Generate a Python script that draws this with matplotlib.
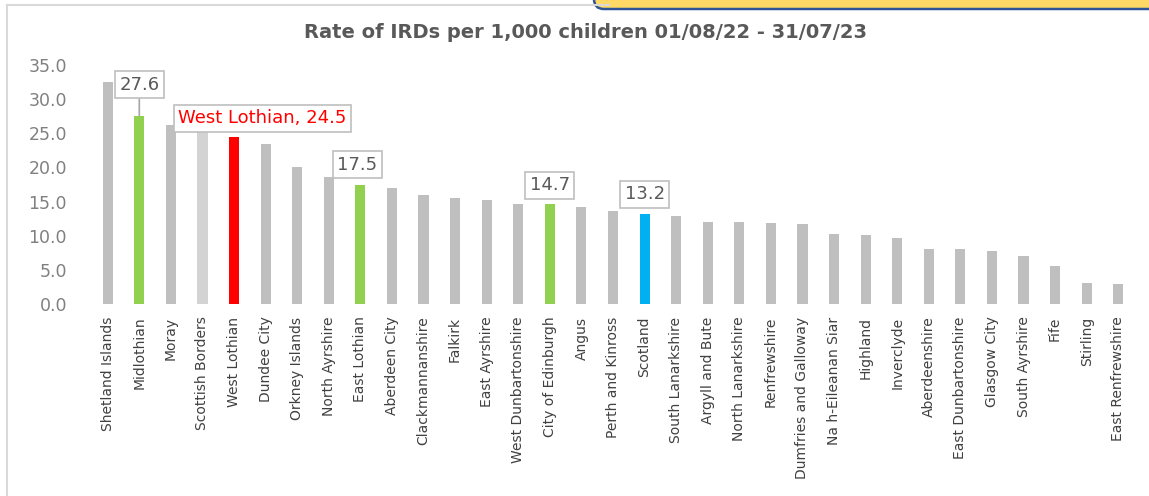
"""
Rate of IRDs per 1,000 children by council area, 01/08/22 - 31/07/23.
"""

import matplotlib
matplotlib.use("Agg")
from matplotlib import pyplot as plt
from matplotlib.lines import Line2D
from matplotlib.patches import FancyBboxPatch
from matplotlib.transforms import IdentityTransform


# Data
areas = ["Shetland Islands", "Midlothian", "Moray", "Scottish Borders",
         "West Lothian", "Dundee City", "Orkney Islands", "North Ayrshire",
         "East Lothian", "Aberdeen City", "Clackmannanshire", "Falkirk",
         "East Ayrshire", "West Dunbartonshire", "City of Edinburgh", "Angus",
         "Perth and Kinross", "Scotland", "South Lanarkshire", "Argyll and Bute",
         "North Lanarkshire", "Renfrewshire", "Dumfries and Galloway",
         "Na h-Eileanan Siar", "Highland", "Inverclyde", "Aberdeenshire",
         "East Dunbartonshire", "Glasgow City", "South Ayrshire", "Fife",
         "Stirling", "East Renfrewshire"]
rates = [32.5, 27.6, 26.2, 25.7, 24.5, 23.5, 20.1, 18.6, 17.5, 17.0, 16.0,
         15.5, 15.2, 14.6, 14.7, 14.2, 13.6, 13.2, 12.9, 12.0, 12.0, 11.8,
         11.7, 10.2, 10.1, 9.7, 8.0, 8.0, 7.8, 7.0, 5.6, 3.1, 2.9]
yticks = [0, 5, 10, 15, 20, 25, 30, 35]

# Highlighted bars
highlight_colors = {
    "Midlothian": "#92d050",
    "East Lothian": "#92d050",
    "City of Edinburgh": "#92d050",
    "West Lothian": "#ff0000",
    "Scotland": "#00b0f0",
    "Scottish Borders": "#d3d3d3",
}

# Callout labels: area -> (text colour, show name, box offset in data units)
callouts = {
    "Midlothian": ("#595959", False, (0.0, 4.5)),
    "West Lothian": ("#ff0000", True, (0.9, 2.7)),
    "East Lothian": ("#595959", False, (-0.1, 2.9)),
    "City of Edinburgh": ("#595959", False, (0.0, 2.7)),
    "Scotland": ("#595959", False, (0.0, 2.9)),
}

# Visual elements
BAR_GREY = "#bfbfbf"
TEXT_GREY = "#595959"
LABEL_GREY = "#404040"
TICK_GREY = "#808080"
BOX_EDGE = "#bfbfbf"
BAR_WIDTH = 0.32
FONT = "DejaVu Sans"


def draw_callouts(axis):
    """
    Boxed value labels above the highlighted bars.
    """
    for name, (color, show_name, (dx, dy)) in callouts.items():
        i = areas.index(name)
        val = rates[i]
        text = f"{name}, {val:.1f}" if show_name else f"{val:.1f}"
        arrow = None
        if name == "Midlothian":
            arrow = dict(arrowstyle="-", color="#a6a6a6", lw=1.2,
                         shrinkA=0, shrinkB=0)
        axis.annotate(text, xy=(i, val), xytext=(i + dx, val + dy),
                      ha="center", va="center", fontsize=13, color=color,
                      family=FONT,
                      bbox=dict(boxstyle="square,pad=0.25", fc="white",
                                ec=BOX_EDGE, lw=1.2),
                      arrowprops=arrow, zorder=5)


def main():
    fig = plt.figure(figsize=(11.49, 4.96), dpi=100)
    axis = fig.add_axes([0.080, 0.387, 0.907, 0.482])

    x = range(len(areas))
    colors = [highlight_colors.get(a, BAR_GREY) for a in areas]
    axis.bar(x, rates, width=BAR_WIDTH, color=colors, zorder=2)

    axis.set_xlim(-0.5, len(areas) - 0.5)
    axis.set_ylim(0, 35)
    axis.set_yticks(yticks)
    axis.set_yticklabels([f"{t:.1f}" for t in yticks], fontsize=12.5,
                         color=TICK_GREY, family=FONT)
    axis.set_xticks(list(x))
    axis.set_xticklabels(areas, rotation=90, fontsize=10, color=LABEL_GREY,
                         family=FONT)
    axis.tick_params(axis="y", length=0, pad=18)
    axis.tick_params(axis="x", length=0, pad=9)
    for side in ["top", "right", "left", "bottom"]:
        axis.spines[side].set_visible(False)

    draw_callouts(axis)

    fig.text(0.51, 0.935, "Rate of IRDs per 1,000 children 01/08/22 - 31/07/23",
             ha="center", va="center", fontsize=14, fontweight="bold",
             color=TEXT_GREY, family=FONT)

    # Chart frame (left and top edges visible in the crop)
    frame_y = 1 - 5 / 496
    frame_x = 7 / 1149
    fig.add_artist(Line2D([frame_x, frame_x], [0, frame_y],
                          transform=fig.transFigure, color="#d9d9d9", lw=1.5))
    fig.add_artist(Line2D([frame_x, 0.53], [frame_y, frame_y],
                          transform=fig.transFigure, color="#d9d9d9", lw=1.5))

    # Yellow note box cut off at the top right
    note = FancyBboxPatch((594, 496 - 9), 700, 60,
                          boxstyle="round,pad=0,rounding_size=10",
                          transform=IdentityTransform(), fc="#ffd966",
                          ec="#2f5597", lw=1.8)
    fig.add_artist(note)

    fig.savefig("out.png", dpi=100)


if __name__ == "__main__":
    main()
